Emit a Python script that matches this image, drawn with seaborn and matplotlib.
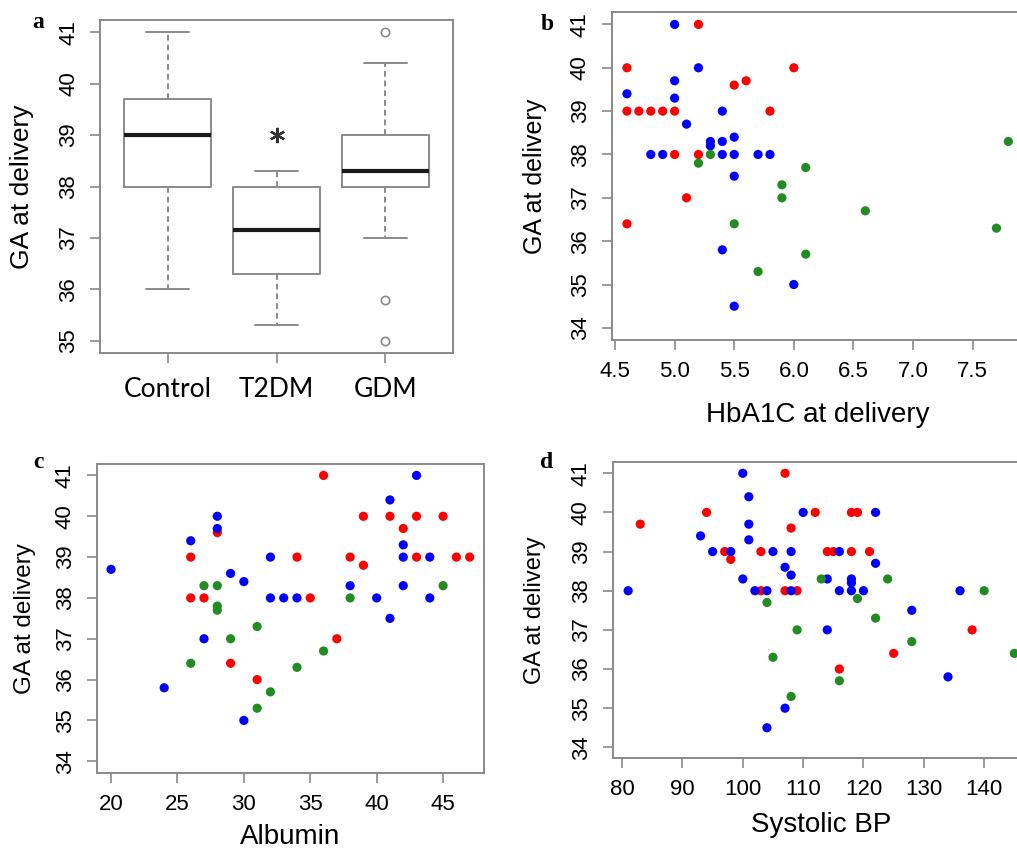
import matplotlib
matplotlib.use("Agg")
import matplotlib.pyplot as plt
import pandas as pd
import seaborn as sns

# panel a: box statistics
groups = ["Control", "T2DM", "GDM"]
box_low = [36.0, 35.3, 37.0]
box_q1 = [38.0, 36.3, 38.0]
box_med = [39.0, 37.15, 38.3]
box_q3 = [39.7, 38.0, 39.0]
box_high = [41.0, 38.3, 40.4]
box_fliers = [[], [], [41.0, 35.8, 35.0]]
t2dm_star = 39.0

# panel b: HbA1C at delivery
hba1c_control_x = [5.2, 4.6, 6.0, 5.6, 5.5, 4.6, 4.7, 4.8, 4.9, 5.0, 5.8, 5.0, 5.2, 5.1, 4.6]
hba1c_control_ga = [41, 40, 40, 39.7, 39.6, 39, 39, 39, 39, 39, 39, 38, 38, 37, 36.4]
hba1c_gdm_x = [5.0, 5.2, 5.0, 4.6, 5.0, 5.4, 5.1, 5.5, 5.3, 5.3, 5.4, 4.8, 4.9, 5.4, 5.5, 5.7, 5.8, 5.5, 5.4, 6.0, 5.5]
hba1c_gdm_ga = [41, 40, 39.7, 39.4, 39.3, 39, 38.7, 38.4, 38.3, 38.2, 38.3, 38, 38, 38, 38, 38, 38, 37.5, 35.8, 35, 34.5]
hba1c_t2dm_x = [7.8, 5.2, 5.3, 6.1, 5.9, 5.9, 6.6, 5.5, 7.7, 6.1, 5.7]
hba1c_t2dm_ga = [38.3, 37.8, 38, 37.7, 37.3, 37, 36.7, 36.4, 36.3, 35.7, 35.3]

# panel c: albumin
albumin_control_x = [26, 26, 27, 28, 29, 31, 34, 35, 36, 37, 38, 39, 39, 41, 42, 43, 43, 45, 46, 47]
albumin_control_ga = [39, 38, 38, 39.6, 36.4, 36, 39, 38, 41, 37, 39, 40, 38.8, 40, 39.7, 40, 39, 40, 39, 39]
albumin_gdm_x = [20, 24, 26, 27, 28, 28, 29, 30, 30, 32, 32, 33, 34, 38, 40, 41, 41, 42, 42, 42, 43, 44, 44]
albumin_gdm_ga = [38.7, 35.8, 39.4, 37, 40, 39.7, 38.6, 38.4, 35, 39, 38, 38, 38, 38.3, 38, 40.4, 37.5, 39.3, 39, 38.3, 41, 39, 38]
albumin_t2dm_x = [26, 27, 28, 28, 28, 29, 31, 31, 32, 34, 36, 38, 45]
albumin_t2dm_ga = [36.4, 38.3, 38.3, 37.8, 37.7, 37, 37.3, 35.3, 35.7, 36.3, 36.7, 38, 38.3]

# panel d: systolic BP
sbp_control_x = [83, 94, 97, 98, 103, 103, 107, 107, 108, 109, 112, 114, 115, 116, 118, 119, 118, 121, 125, 138]
sbp_control_ga = [39.7, 40, 39, 38.8, 39, 38, 41, 38, 39.6, 38, 40, 39, 39, 36, 40, 40, 39, 39, 36.4, 37]
sbp_gdm_x = [81, 93, 95, 98, 100, 100, 101, 101, 101, 102, 104, 104, 105, 107, 107, 108,
             108, 108, 110, 114, 114, 116, 116, 118, 118, 118, 120, 122, 122, 128, 134, 136]
sbp_gdm_ga = [38, 39.4, 39, 39, 41, 38.3, 40.4, 39.7, 39.3, 38, 38, 34.5, 39, 38.6, 35, 39,
              38.4, 38, 40, 38.3, 37, 39, 38, 38.3, 38.2, 38, 38, 40, 38.7, 37.5, 35.8, 38]
sbp_t2dm_x = [104, 105, 108, 109, 113, 116, 119, 122, 124, 128, 140, 145]
sbp_t2dm_ga = [37.7, 36.3, 35.3, 37, 38.3, 35.7, 37.8, 37.3, 38.3, 36.7, 38, 36.4]

group_colors = {"Control": "#ff0000", "GDM": "#0000ff", "T2DM": "#228b22"}
FRAME = "#8a8a8a"
SANS = ["Liberation Sans", "DejaVu Sans"]


def make_frame(control, gdm, t2dm):
    parts = []
    for name, (xs, ys) in [("Control", control), ("GDM", gdm), ("T2DM", t2dm)]:
        parts.append(pd.DataFrame({"x": xs, "ga": ys, "group": name}))
    return pd.concat(parts, ignore_index=True)


def style_axes(ax, xl, yl, xl_off, yl_off, w_px, h_px, lab_size=18, xlab_size=20):
    for sp in ax.spines.values():
        sp.set_visible(True)
        sp.set_color(FRAME)
        sp.set_linewidth(1.4)
    ax.tick_params(axis="both", direction="out", length=7, width=1.2,
                   color=FRAME, labelcolor="black", labelsize=16, pad=8)
    ax.tick_params(axis="y", labelrotation=90)
    for lbl in ax.get_yticklabels():
        lbl.set_va("center")
    ax.set_xlabel(xl, fontsize=xlab_size, family=SANS, color="black")
    ax.set_ylabel(yl, fontsize=lab_size, family=SANS, color="black")
    ax.xaxis.label.set_va("center")
    ax.yaxis.label.set_va("center")
    ax.xaxis.set_label_coords(0.5, -xl_off / h_px)
    ax.yaxis.set_label_coords(-yl_off / w_px, 0.5)


sns.set_style("ticks")
plt.rcParams["font.family"] = SANS
plt.rcParams["text.color"] = "black"

W, H = 1017, 852
fig = plt.figure(figsize=(W / 100, H / 100), dpi=100)


def add_ax(left, top, right, bottom):
    return fig.add_axes([left / W, 1 - bottom / H, (right - left) / W, (bottom - top) / H])


# ---- panel a: boxplot
ax_a = add_ax(100, 20, 453, 353)
stats = []
for i, g in enumerate(groups):
    stats.append({"label": g, "whislo": box_low[i], "q1": box_q1[i], "med": box_med[i],
                  "q3": box_q3[i], "whishi": box_high[i], "fliers": box_fliers[i]})
ax_a.bxp(stats, positions=[1, 2, 3], widths=0.8, showfliers=True,
         boxprops=dict(color=FRAME, linewidth=1.4),
         whiskerprops=dict(color=FRAME, linewidth=1.4, linestyle=(0, (3, 2))),
         capprops=dict(color=FRAME, linewidth=1.4),
         medianprops=dict(color="#1a1a1a", linewidth=3),
         flierprops=dict(marker="o", markerfacecolor="none", markeredgecolor=FRAME,
                         markersize=6, markeredgewidth=1.2))
# T2DM significance asterisk
ax_a.plot([2], [t2dm_star], marker=(6, 2, 0), markersize=11, markeredgewidth=1.6,
          color="#333333", linestyle="none")
ax_a.set_xlim(0.38, 3.62)
ax_a.set_ylim(34.76, 41.24)
ax_a.set_yticks(range(35, 42))
ax_a.set_xticks([1, 2, 3])
ax_a.set_xticklabels(groups)
style_axes(ax_a, "", "GA at delivery", 60, 78, 353, 333, lab_size=19)
ax_a.tick_params(axis="x", labelsize=19, pad=10)
for lbl in ax_a.get_xticklabels():
    lbl.set_family(["Lato", "DejaVu Sans"])

# ---- panel b
ax_b = add_ax(611.7, 12.3, 1023.6, 340)
df_b = make_frame((hba1c_control_x, hba1c_control_ga), (hba1c_gdm_x, hba1c_gdm_ga),
                  (hba1c_t2dm_x, hba1c_t2dm_ga))
sns.scatterplot(data=df_b, x="x", y="ga", hue="group", palette=group_colors,
                s=44, linewidth=0, legend=False, ax=ax_b)
ax_b.set_xlim(4.472, 7.928)
ax_b.set_ylim(33.72, 41.28)
ax_b.set_xticks([4.5, 5.0, 5.5, 6.0, 6.5, 7.0, 7.5])
ax_b.set_xticklabels(["4.5", "5.0", "5.5", "6.0", "6.5", "7.0", "7.5"])
ax_b.set_yticks(range(34, 42))
style_axes(ax_b, "HbA1C at delivery", "GA at delivery", 75, 77, 412, 328)

# ---- panel c
ax_c = add_ax(96.7, 464, 484, 772.7)
df_c = make_frame((albumin_control_x, albumin_control_ga), (albumin_gdm_x, albumin_gdm_ga),
                  (albumin_t2dm_x, albumin_t2dm_ga))
sns.scatterplot(data=df_c, x="x", y="ga", hue="group", palette=group_colors,
                s=44, linewidth=0, legend=False, ax=ax_c)
ax_c.set_xlim(18.92, 48.08)
ax_c.set_ylim(33.72, 41.28)
ax_c.set_xticks(range(20, 46, 5))
ax_c.set_yticks(range(34, 42))
style_axes(ax_c, "Albumin", "GA at delivery", 64, 72, 387, 309, lab_size=17.5)

# ---- panel d
ax_d = add_ax(612.7, 462.3, 1029.8, 758.3)
df_d = make_frame((sbp_control_x, sbp_control_ga), (sbp_gdm_x, sbp_gdm_ga),
                  (sbp_t2dm_x, sbp_t2dm_ga))
sns.scatterplot(data=df_d, x="x", y="ga", hue="group", palette=group_colors,
                s=44, linewidth=0, legend=False, ax=ax_d)
ax_d.set_xlim(78.44, 147.56)
ax_d.set_ylim(33.72, 41.28)
ax_d.set_xticks(range(80, 141, 10))
ax_d.set_yticks(range(34, 42))
style_axes(ax_d, "Systolic BP", "GA at delivery", 67, 78, 417, 296, lab_size=17)

# panel letters
for letter, (px, py) in {"a": (38, 22), "b": (547, 25), "c": (38, 463), "d": (547, 463)}.items():
    fig.text(px / W, 1 - py / H, letter, fontsize=17, fontweight="bold",
             family=["Liberation Serif", "DejaVu Serif"], ha="center", va="center")

fig.savefig("out.png", dpi=100)
